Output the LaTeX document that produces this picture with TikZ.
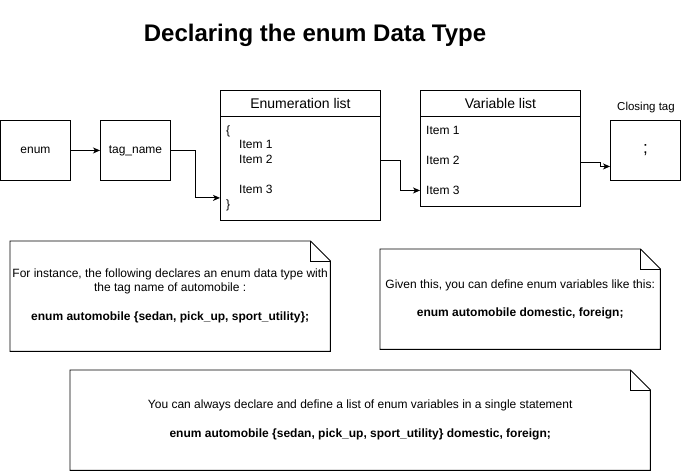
\documentclass[tikz,border=0pt]{standalone}
\usepackage{fontspec}
\setmainfont{Liberation Sans}
\usetikzlibrary{arrows.meta,positioning}

\newcommand\dogear[1]{%
  \draw[frame] (#1.south west) -- (#1.north west) -- ([xshift=-20pt]#1.north east)
    -- ([yshift=-20pt]#1.north east) -- (#1.south east) -- cycle;
  \draw[frame] ([xshift=-20pt]#1.north east) -- ++(0,20) -- ([yshift=-20pt]#1.north east);}

\begin{document}
\begin{tikzpicture}[x=1pt,y=-1pt,
  frame/.style={line width=0.9pt},
  box/.style={draw,line width=0.9pt,minimum width=70pt,minimum height=60pt,inner sep=0pt,anchor=north west,font=\fontsize{12}{14}\selectfont},
  head/.style={draw,line width=0.9pt,minimum width=160pt,minimum height=26pt,inner sep=0pt,anchor=north west,font=\fontsize{14}{16}\selectfont},
  body/.style={draw,line width=0.9pt,minimum width=160pt,inner sep=0pt,anchor=north west},
  item/.style={anchor=west,inner sep=0pt,text height=9pt,text depth=0pt,font=\fontsize{12}{14}\selectfont},
  notebox/.style={inner sep=0pt,anchor=north west,align=center,font=\fontsize{12}{14}\selectfont},
  link/.style={-{Stealth[length=7pt,width=6pt,inset=2pt]},line width=0.9pt}
]
\useasboundingbox (0,0) rectangle (687,471);

\node (title) at (315,35) {\bfseries\fontsize{24}{28}\selectfont Declaring the enum Data Type};

\node[box] (enum) at (0,120) {enum};
\node[box] (tag) at (100,120) {tag\_name};

\node[head] (enumhead) at (220,90) {Enumeration list};
\node[body,minimum height=104pt] (enumbody) at (220,116) {};
\node[item] (lbrace) at (226,130) {\{};
\node[item] (eitem1) at (239,144) {Item 1};
\node[item] (eitem2) at (239,159) {Item 2};
\node[item] (eitem3) at (239,189) {Item 3};
\node[item] (rbrace) at (226,204) {\}};

\node[head] (varhead) at (420,90) {Variable list};
\node[body,minimum height=90pt] (varbody) at (420,116) {};
\node[item] (vitem1) at (426,130) {Item 1};
\node[item] (vitem2) at (426,160) {Item 2};
\node[item] (vitem3) at (426,190) {Item 3};

\node[box] (closing) at (610,120) {\fontsize{17}{20}\selectfont ;};
\node[font=\fontsize{11.5}{14}\selectfont,inner sep=0pt] (closinglbl) at (646,108) {Closing tag};

\draw[link] (enum) -- (tag);
\draw[link] (tag.east) -- ++(25,0) |- ([yshift=23pt]enumbody.south west);
\draw[link] ([yshift=8pt]enumbody.east) -- ++(20,0) |- ([yshift=-29pt]varbody.west);
\draw[link] ([yshift=-1pt]varbody.east) -- ++(20,0) |- ([yshift=-16pt]closing.west);

\node[notebox,minimum width=320pt,minimum height=110pt] (note1) at (10,241)
  {For instance, the following declares an enum data type with\\the tag name of automobile :\\[15pt]
   \bfseries enum automobile \{sedan, pick\_up, sport\_utility\};};
\dogear{note1}

\node[notebox,minimum width=280pt,minimum height=100pt] (note2) at (380,249)
  {Given this, you can define enum variables like this:\\[14pt]
   \bfseries enum automobile domestic, foreign;};
\dogear{note2}

\node[notebox,minimum width=580pt,minimum height=100pt] (note3) at (70,370)
  {You can always declare and define a list of enum variables in a single statement\\[15pt]
   \bfseries enum automobile \{sedan, pick\_up, sport\_utility\} domestic, foreign;};
\dogear{note3}
\end{tikzpicture}
\end{document}
